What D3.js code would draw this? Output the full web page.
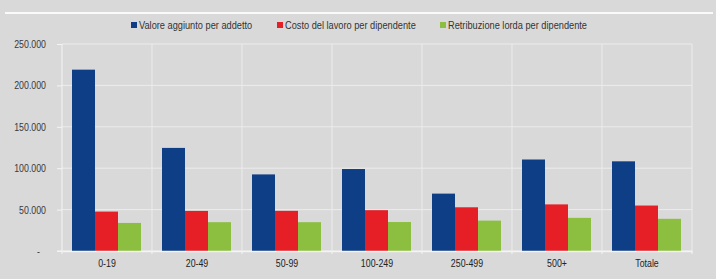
<!DOCTYPE html>
<html>
<head>
<meta charset="utf-8">
<script src="https://cdn.jsdelivr.net/npm/d3@7"></script>
<style>
  body { margin: 0; background: #d9d9d9; }
  svg { display: block; }
</style>
</head>
<body>
<svg id="chart"></svg>
<script>
const categories = ['0-19', '20-49', '50-99', '100-249', '250-499', '500+', 'Totale'];
const seriesNames = ['Valore aggiunto per addetto', 'Costo del lavoro per dipendente', 'Retribuzione lorda per dipendente'];
const valoreAggiunto = [219000, 124500, 92500, 99000, 69300, 110500, 108300];
const costoLavoro = [47600, 48400, 48500, 49300, 52800, 56300, 54900];
const retribuzione = [33900, 34800, 34800, 35000, 36700, 40000, 38900];
const yTicks = [0, 50000, 100000, 150000, 200000, 250000];

const colors = ['#0e3e85', '#e61e26', '#8cbf3f'];
const font = '"Liberation Sans", Arial, sans-serif';
const squeeze = 0.8; // narrow look of the original font

const width = 716, height = 279;
const marginTop = 44, marginBottom = 28, marginLeft = 62, marginRight = 24;
const innerW = width - marginLeft - marginRight;
const innerH = height - marginTop - marginBottom;

const svg = d3.select('#chart')
  .attr('width', width)
  .attr('height', height)
  .style('background', '#d9d9d9');

// white rule across the top
svg.append('line')
  .attr('x1', 5).attr('x2', 713)
  .attr('y1', 13).attr('y2', 13)
  .attr('stroke', '#fafafa')
  .attr('stroke-width', 2);

const bounds = svg.append('g')
  .attr('transform', `translate(${marginLeft}, ${marginTop})`);

const x0 = d3.scaleBand()
  .domain(categories)
  .range([0, innerW])
  .padding(0);

const x1 = d3.scaleBand()
  .domain(seriesNames)
  .range([10, x0.bandwidth() - 11])
  .padding(0);

const y = d3.scaleLinear()
  .domain([0, 250000])
  .range([innerH, 0]);

// grid
bounds.append('g')
  .selectAll('line')
  .data(yTicks)
  .join('line')
  .attr('x1', 0).attr('x2', innerW)
  .attr('y1', d => y(d)).attr('y2', d => y(d))
  .attr('stroke', '#ececec')
  .attr('stroke-width', 1);

bounds.append('g')
  .selectAll('line')
  .data(d3.range(1, categories.length + 1))
  .join('line')
  .attr('x1', i => x0.step() * i)
  .attr('x2', i => x0.step() * i)
  .attr('y1', 0).attr('y2', innerH)
  .attr('stroke', '#ececec')
  .attr('stroke-width', 1);

// bars
const rows = categories.map((c, i) => ({
  cat: c,
  values: [valoreAggiunto[i], costoLavoro[i], retribuzione[i]]
}));

bounds.selectAll('.group')
  .data(rows)
  .join('g')
  .attr('class', 'group')
  .attr('transform', d => `translate(${x0(d.cat)},0)`)
  .selectAll('rect')
  .data(d => d.values.map((v, j) => ({ name: seriesNames[j], v, j })))
  .join('rect')
  .attr('x', d => x1(d.name))
  .attr('width', x1.bandwidth())
  .attr('y', d => y(d.v))
  .attr('height', d => innerH - y(d.v))
  .attr('fill', d => colors[d.j]);

// y axis
const yAxis = bounds.append('g')
  .call(d3.axisLeft(y)
    .tickValues(yTicks)
    .tickSize(5)
    .tickPadding(11)
    .tickFormat(d => d === 0 ? '-' : d3.format(',')(d).replace(/,/g, '.')));
yAxis.select('.domain').attr('stroke', '#f4f4f4').attr('d', `M-5,${innerH}H0V0`);
yAxis.selectAll('.tick line').attr('stroke', '#f4f4f4');
yAxis.selectAll('text')
  .attr('fill', '#3a3a3a')
  .attr('x', d => (d === 0 ? -22 : -16) / squeeze)
  .attr('transform', `scale(${squeeze},1)`)
  .style('font-family', font)
  .style('font-size', '11px');

// x axis
const xAxis = bounds.append('g')
  .attr('transform', `translate(0,${innerH})`)
  .call(d3.axisBottom(x0).tickSize(0).tickPadding(8));
xAxis.select('.domain').attr('stroke', '#f4f4f4').attr('stroke-width', 1.5);
xAxis.selectAll('text')
  .attr('fill', '#222')
  .attr('transform', `scale(${squeeze},1)`)
  .style('font-family', font)
  .style('font-size', '11px');

// tick marks at category boundaries on the baseline
bounds.append('g')
  .selectAll('line')
  .data(d3.range(categories.length + 1))
  .join('line')
  .attr('x1', i => x0.step() * i)
  .attr('x2', i => x0.step() * i)
  .attr('y1', innerH).attr('y2', innerH + 3)
  .attr('stroke', '#f4f4f4');

// legend
const legendX = [131, 277, 440];
const legend = svg.append('g')
  .selectAll('g')
  .data(seriesNames)
  .join('g')
  .attr('transform', (d, i) => `translate(${legendX[i]}, 25)`);

legend.append('rect')
  .attr('x', 0).attr('y', -3)
  .attr('width', 6).attr('height', 6)
  .attr('fill', (d, i) => colors[i]);

legend.append('text')
  .attr('transform', 'translate(8,0) scale(0.84,1)')
  .attr('dy', '0.35em')
  .attr('fill', '#333')
  .style('font-family', font)
  .style('font-size', '11px')
  .text(d => d);
</script>
</body>
</html>
